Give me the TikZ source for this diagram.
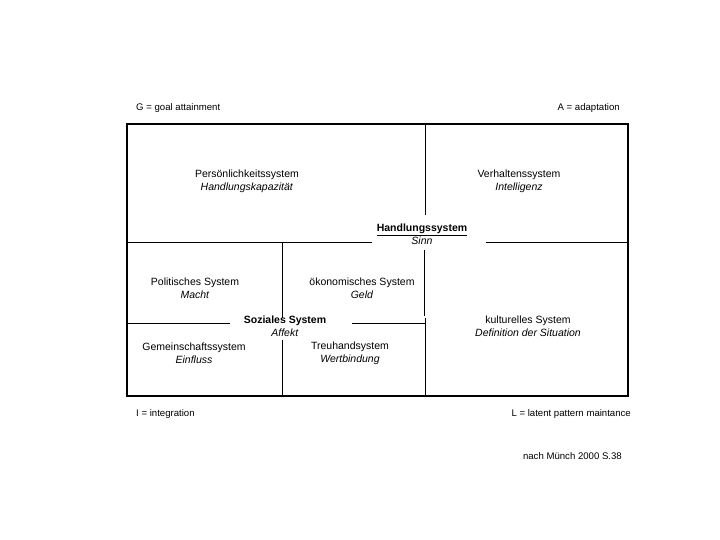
\documentclass[tikz,border=0pt]{standalone}
\usepackage{fontspec}
\setmainfont{Liberation Sans}
\usetikzlibrary{positioning}
\begin{document}
\begin{tikzpicture}[x=1pt,y=-1pt]
\tikzstyle{sys}=[align=center,font=\fontsize{10.5}{13}\selectfont,inner sep=1pt]
\tikzstyle{corner}=[font=\fontsize{9.6}{11}\selectfont,inner sep=0pt]
\tikzstyle{rule}=[line width=0.5pt]
    \useasboundingbox (0,0) rectangle (720,540);
    % Rahmen und Teilungen
    \draw[line width=1.6pt] (127,124) rectangle (628,396);
    \draw[rule] (425,124) -- (425,215);
    \draw[rule] (127,242) -- (372,242);
    \draw[rule] (486,242) -- (628,242);
    \draw[rule] (424,250) -- (424,316);
    \draw[rule] (425,318) -- (425,396);
    \draw[rule] (282,242) -- (282,318);
    \draw[rule] (282,340) -- (282,396);
    \draw[rule] (127,323) -- (230,323);
    \draw[rule] (352,323) -- (425,323);
    % Systeme
    \node[sys] (Pers) at (247,181) {Persönlichkeitssystem\\\textit{Handlungskapazität}};
    \node[sys] (Verh) at (519,181) {Verhaltenssystem\\\textit{Intelligenz}};
    \node[sys] (Hand) at (422,234) {\underline{\textbf{Handlungssystem}}\\\textit{Sinn}};
    \node[sys] (Poli) at (195,288) {Politisches System\\\textit{Macht}};
    \node[sys] (Oeko) at (362,288) {ökonomisches System\\\textit{Geld}};
    \node[sys] (Sozi) at (285,326) {\textbf{Soziales System}\\\textit{Affekt}};
    \node[sys] (Kult) at (528,326) {kulturelles System\\\textit{Definition der Situation}};
    \node[sys] (Geme) at (194,353) {Gemeinschaftssystem\\\textit{Einfluss}};
    \node[sys] (Treu) at (350,353) {Treuhandsystem\\\textit{Wertbindung}};
    % Ecken
    \node[corner,anchor=west] (G) at (136,108) {G = goal attainment};
    \node[corner,anchor=east] (A) at (620,108) {A = adaptation};
    \node[corner,anchor=west] (I) at (136,414) {I = integration};
    \node[corner,anchor=east] (L) at (631,414) {L = latent pattern maintance};
    \node[corner,anchor=east] (Quelle) at (622,456) {nach Münch 2000 S.38};
\end{tikzpicture}
\end{document}
